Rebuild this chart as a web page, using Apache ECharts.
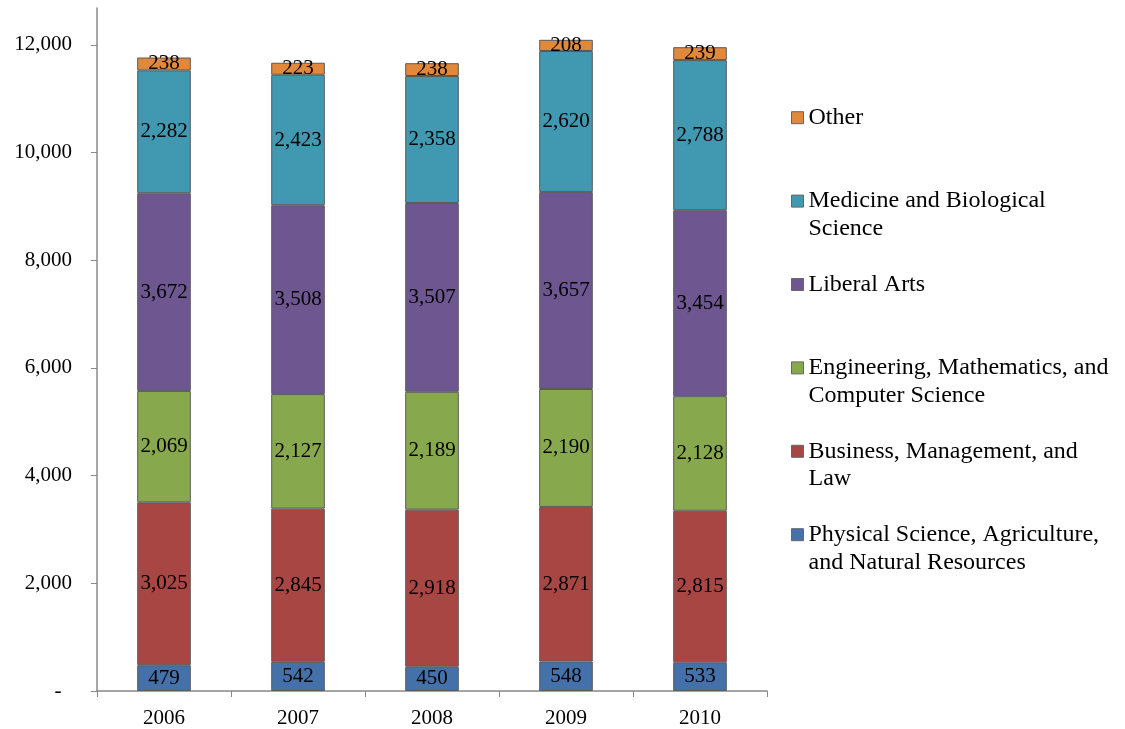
<!DOCTYPE html>
<html>
<head>
<meta charset="utf-8">
<script src="https://cdn.jsdelivr.net/npm/echarts@6/dist/echarts.min.js"></script>
<style>
  html, body { margin: 0; padding: 0; background: #fff; }
  #chart { width: 1125px; height: 729px; }
</style>
</head>
<body>
<div id="chart"></div>
<script>
var years = ['2006', '2007', '2008', '2009', '2010'];
var physical = [479, 542, 450, 548, 533];
var business = [3025, 2845, 2918, 2871, 2815];
var engineering = [2069, 2127, 2189, 2190, 2128];
var liberal = [3672, 3508, 3507, 3657, 3454];
var medicine = [2282, 2423, 2358, 2620, 2788];
var other = [238, 223, 238, 208, 239];
var yTicks = [0, 2000, 4000, 6000, 8000, 10000, 12000];

var seriesNames = [
  'Physical Science, Agriculture, and Natural Resources',
  'Business, Management, and Law',
  'Engineering, Mathematics, and Computer Science',
  'Liberal Arts',
  'Medicine and Biological Science',
  'Other'
];
var seriesData = [physical, business, engineering, liberal, medicine, other];
var colors = ['#4571AA', '#A84644', '#88A84D', '#6E5790', '#4198B1', '#E0883C'];

// legend text, wrapped like the original; each entry padded to 3 lines so the
// swatch lines up with the first line
var legendText = {
  'Other': '\nOther\n',
  'Medicine and Biological Science': '\nMedicine and Biological\nScience',
  'Liberal Arts': '\nLiberal Arts\n',
  'Engineering, Mathematics, and Computer Science': '\nEngineering, Mathematics, and\nComputer Science',
  'Business, Management, and Law': '\nBusiness, Management, and\nLaw',
  'Physical Science, Agriculture, and Natural Resources': '\nPhysical Science, Agriculture,\nand Natural Resources'
};

var font = '"Liberation Serif", "Times New Roman", serif';

function fmt(v) {
  return v.toLocaleString('en-US');
}

var chart = echarts.init(document.getElementById('chart'));

var option = {
  animation: false,
  color: colors,
  grid: { left: 97, right: 358, top: 8, bottom: 37 },
  legend: {
    orient: 'vertical',
    left: 791,
    top: 76,
    padding: 0,
    itemGap: 0,
    itemWidth: 12,
    itemHeight: 12,
    icon: 'rect',
    data: seriesNames.slice().reverse(),
    formatter: function (name) { return legendText[name]; },
    textStyle: { fontFamily: font, fontSize: 24, color: '#000', lineHeight: 27.8 },
    itemStyle: { borderColor: '#666', borderWidth: 1 }
  },
  xAxis: {
    type: 'category',
    data: years,
    axisLine: { lineStyle: { color: '#888', width: 1.5 } },
    axisTick: { show: true, length: 6, lineStyle: { color: '#888' } },
    axisLabel: { fontFamily: font, fontSize: 21, color: '#000', margin: 17 }
  },
  yAxis: {
    type: 'value',
    min: 0,
    max: 12685,
    interval: 2000,
    splitLine: { show: false },
    axisLine: { show: true, lineStyle: { color: '#888', width: 1.5 } },
    axisTick: { show: true, length: 6, customValues: yTicks, lineStyle: { color: '#888' } },
    axisLabel: {
      fontFamily: font, fontSize: 21, color: '#000', margin: 25,
      customValues: yTicks,
      formatter: function (v) { return v === 0 ? '-  ' : fmt(v); }
    }
  },
  series: seriesNames.map(function (name, i) {
    return {
      name: name,
      type: 'bar',
      stack: 'total',
      barWidth: '40%',
      data: seriesData[i],
      itemStyle: { borderColor: '#5a5a5a', borderWidth: 1 },
      label: {
        show: true,
        position: 'inside',
        color: '#000',
        textBorderWidth: 0,
        fontFamily: font,
        fontSize: 21,
        formatter: function (p) { return fmt(p.value); }
      }
    };
  })
};

chart.setOption(option);
</script>
</body>
</html>
